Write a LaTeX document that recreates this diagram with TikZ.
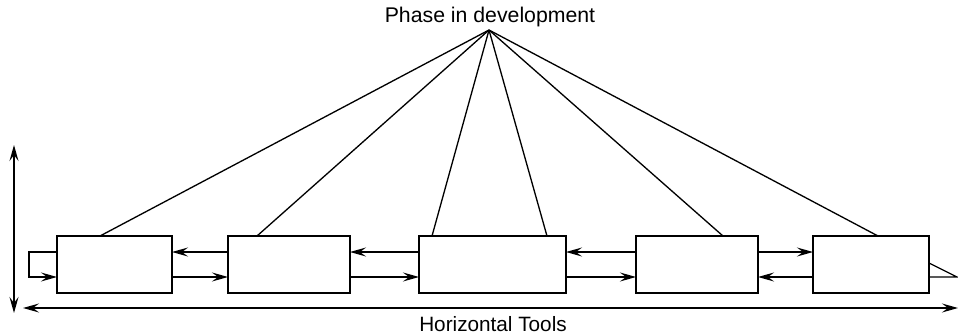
\documentclass[tikz,border=0pt]{standalone}
\usepackage{fontspec}
\setmainfont{Liberation Sans}
\usetikzlibrary{arrows.meta, calc}

\begin{document}
\begin{tikzpicture}[
    x=0.02cm, y=-0.02cm,
    every node/.style={font=\fontsize{11.8}{14}\selectfont},
    every path/.style={line width=0.75pt},
    tool/.style={rectangle, draw, line width=0.75pt, inner sep=0pt, outer sep=0pt, minimum height=1.14cm},
    arr/.style={-{Stealth[length=0.32cm, width=0.18cm, inset=0.12cm]}},
    darr/.style={{Stealth[length=0.32cm, width=0.18cm, inset=0.12cm]}-{Stealth[length=0.32cm, width=0.18cm, inset=0.12cm]}}
]
\useasboundingbox (0,0) rectangle (958,335);

% Title and apex
\node[anchor=base, font=\fontsize{12.1}{14}\selectfont] (title) at (490,22) {Phase in development};
\coordinate (apex) at (489,30);

% Tool boxes
\node[tool, minimum width=2.30cm] (t1) at (114.5,264.5) {};
\node[tool, minimum width=2.44cm] (t2) at (289,264.5) {};
\node[tool, minimum width=2.94cm] (t3) at (492.5,264.5) {};
\node[tool, minimum width=2.44cm] (t4) at (697,264.5) {};
\node[tool, minimum width=2.32cm] (t5) at (871,264.5) {};

% Lines from the phase
\draw (apex) -- ([xshift=-0.29cm]t1.north);
\draw (apex) -- ([xshift=-0.64cm]t2.north);
\draw (apex) -- ([xshift=-1.21cm]t3.north);
\draw (apex) -- ([xshift=1.09cm]t3.north);
\draw (apex) -- ([xshift=0.52cm]t4.north);
\draw (apex) -- ([xshift=0.14cm]t5.north);

% Left loop
\coordinate (lp) at (29,0);
\draw[arr] ([yshift=0.25cm]t1.west) -| ($(lp |- t1.west)+(0,-0.25cm)$) -- ([yshift=-0.25cm]t1.west);

% Arrows between boxes
\draw[arr] ([yshift=0.25cm]t2.west) -- ([yshift=0.25cm]t1.east);
\draw[arr] ([yshift=-0.25cm]t1.east) -- ([yshift=-0.25cm]t2.west);
\draw[arr] ([yshift=0.25cm]t3.west) -- ([yshift=0.25cm]t2.east);
\draw[arr] ([yshift=-0.25cm]t2.east) -- ([yshift=-0.25cm]t3.west);
\draw[arr] ([yshift=0.25cm]t4.west) -- ([yshift=0.25cm]t3.east);
\draw[arr] ([yshift=-0.25cm]t3.east) -- ([yshift=-0.25cm]t4.west);
\draw[arr] ([yshift=0.25cm]t4.east) -- ([yshift=0.25cm]t5.west);
\draw[arr] ([yshift=-0.25cm]t5.west) -- ([yshift=-0.25cm]t4.east);

% Right end
\coordinate (re) at (957,277);
\draw ([yshift=0.03cm]t5.east) -- (re) -- ([yshift=-0.25cm]t5.east);

% Axes
\coordinate (hl) at (23,308);
\coordinate (hr) at (958,308);
\coordinate (vt) at (14,145);
\coordinate (vb) at (14,313);
\draw[darr] (hl) -- (hr);
\draw[darr] (vt) -- (vb);
\node[anchor=base] (htools) at (493,331) {Horizontal Tools};

\end{tikzpicture}
\end{document}
